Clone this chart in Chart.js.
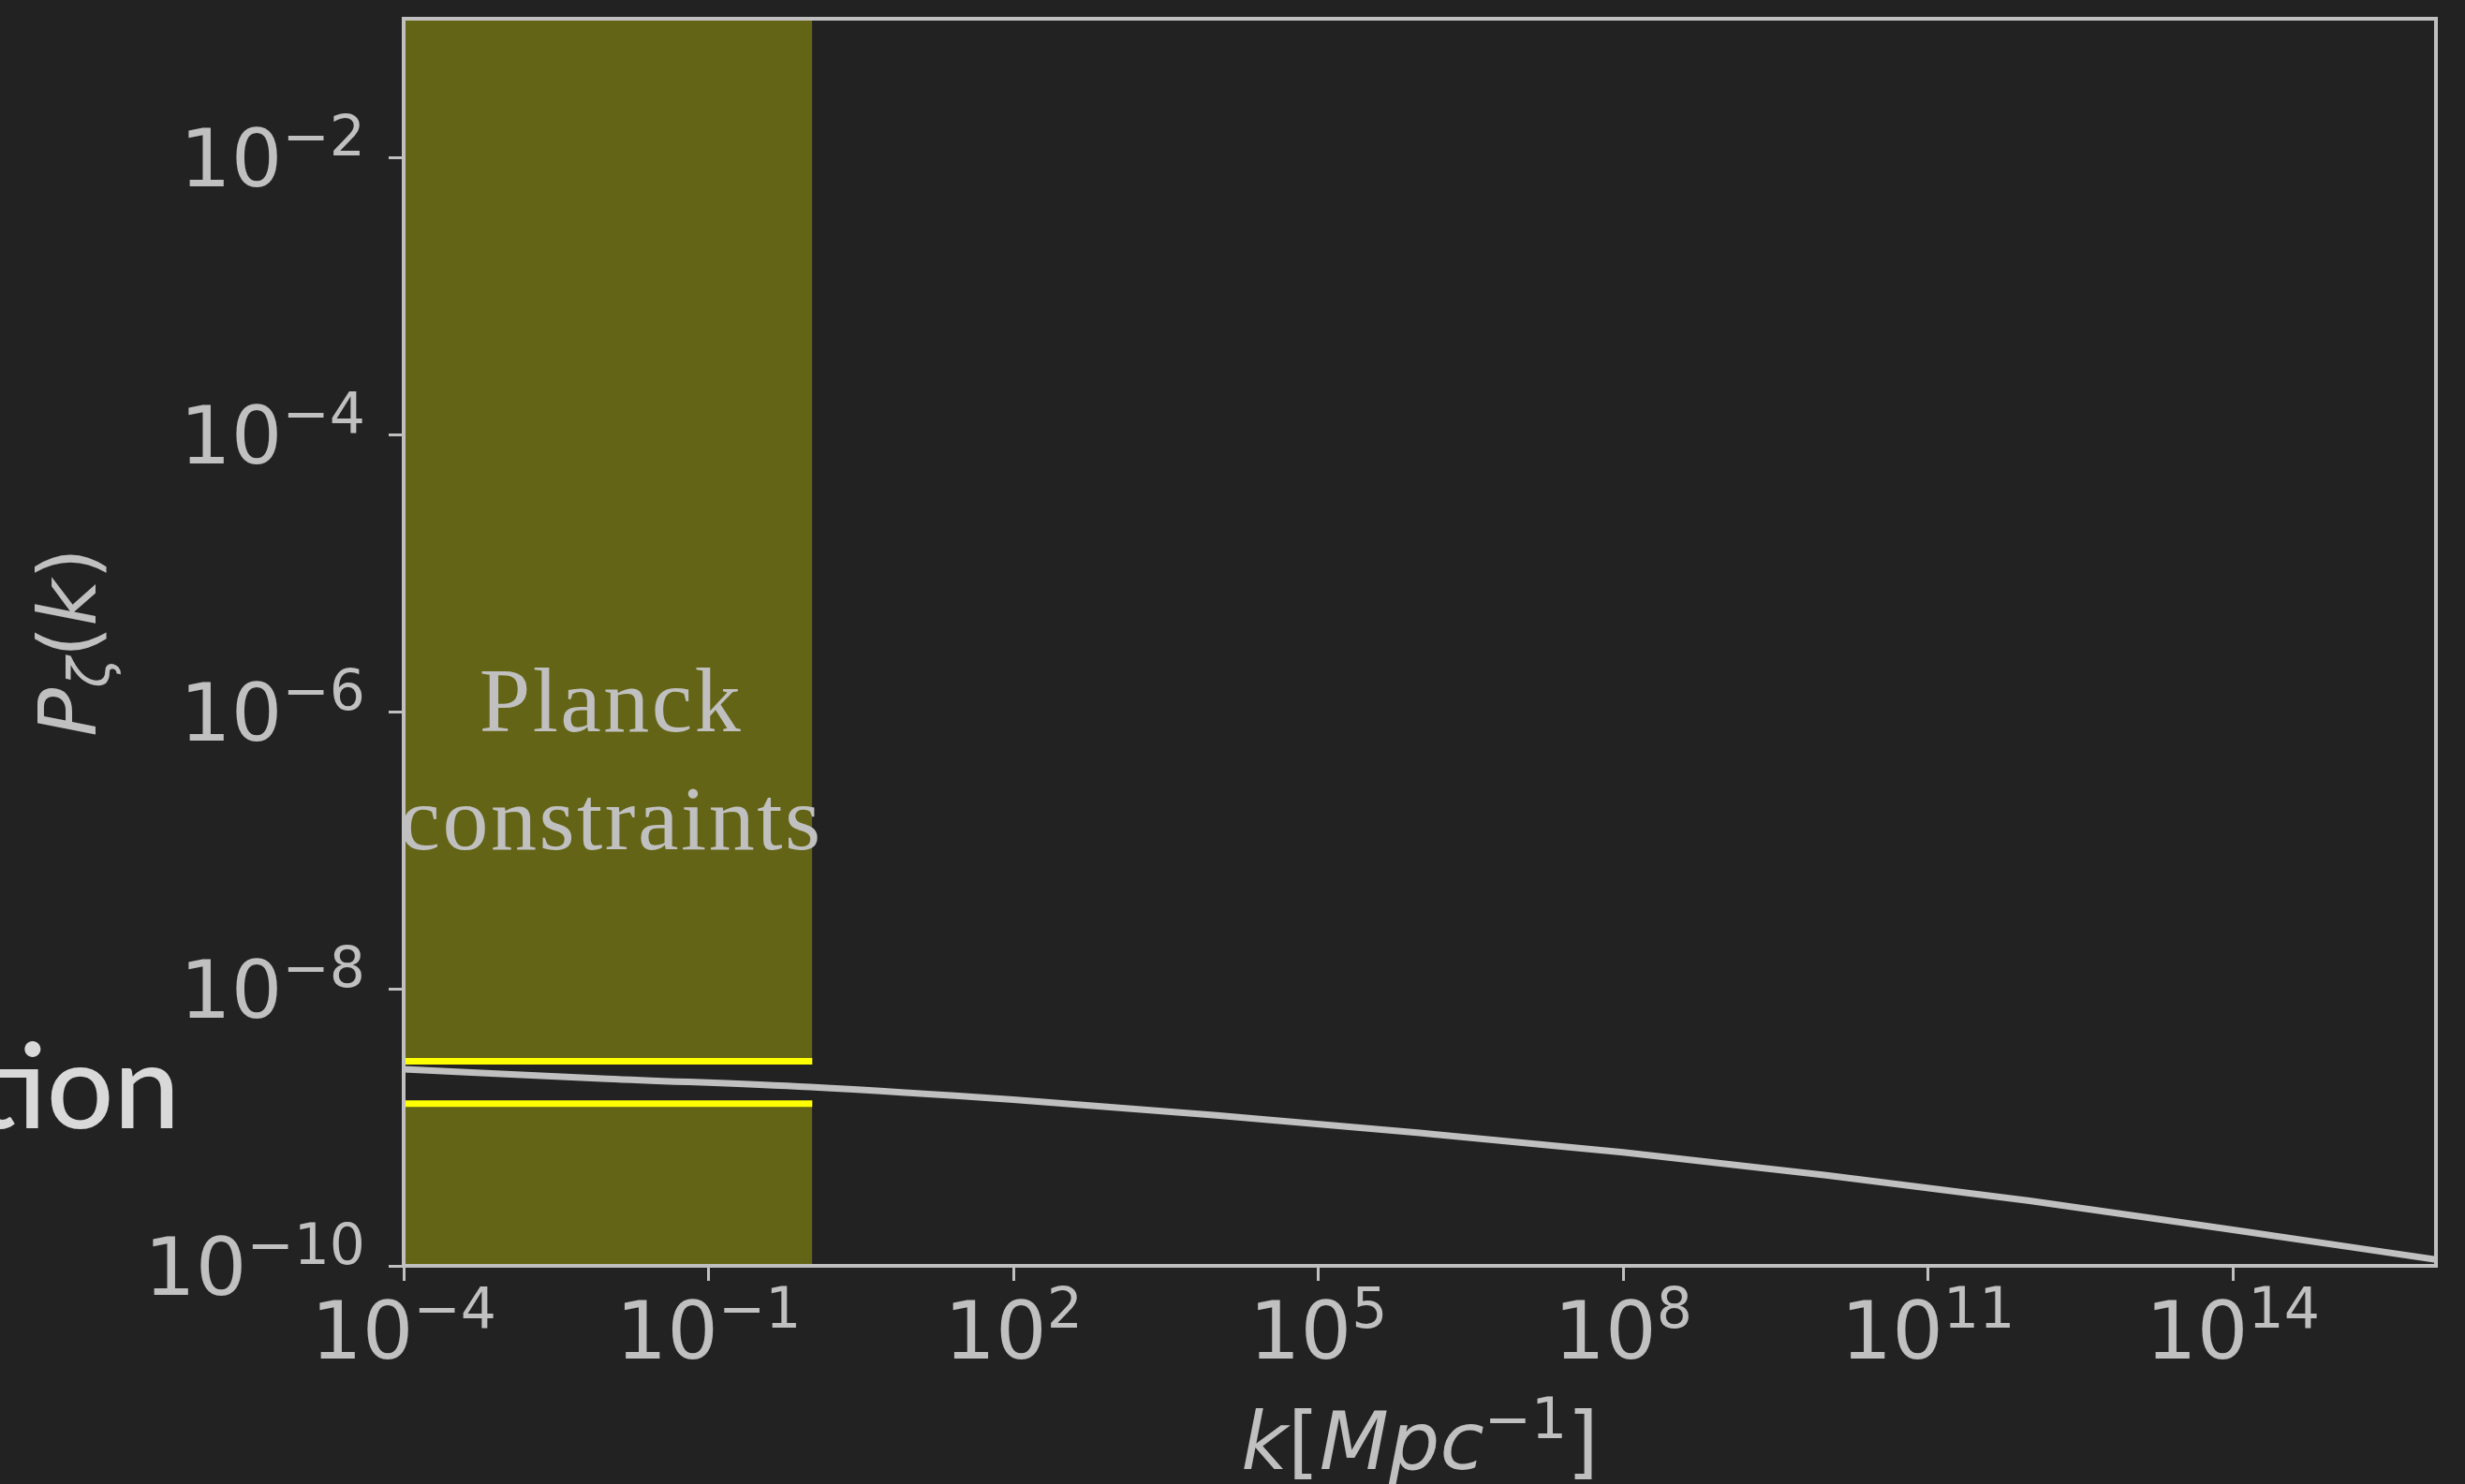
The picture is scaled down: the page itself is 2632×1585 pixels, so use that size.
<!DOCTYPE html>
<html>
<head>
<meta charset="utf-8">
<script src="https://cdn.jsdelivr.net/npm/chart.js@4.4.1/dist/chart.umd.min.js"></script>
<style>
  html, body { margin: 0; padding: 0; background: #222222; overflow: hidden; }
  canvas { display: block; }
</style>
</head>
<body>
<canvas id="myChart" width="2632" height="1585"></canvas>
<script>
// power spectrum, k in Mpc^-1
const kValues = [1e-4, 1e-2, 1, 1e2, 1e4, 1e6, 1e8, 1e10, 1e12, 1e14, 1e16];
const powerValues = [2.62e-9, 2.24e-9, 1.95e-9, 1.58e-9, 1.22e-9, 9.1e-10, 6.6e-10, 4.5e-10, 2.95e-10, 1.82e-10, 1.11e-10];

// Planck band
const planckK = [1e-4, 1.05];
const planckUpper = 2.99e-9;
const planckLower = 1.48e-9;
const planckLabel = ['Planck', 'constraints'];

// axes
const xRange = [1e-4, 1e16];
const yRange = [1e-10, 1e-1];
const xTickValues = [1e-4, 1e-1, 1e2, 1e5, 1e8, 1e11, 1e14];
const yTickValues = [1e-10, 1e-8, 1e-6, 1e-4, 1e-2];

const fg = '#c0c0c0';
const FS = 86, SFS = 60;
const sans = '"DejaVu Sans"';

// draws a run of text pieces [text, font, dy] along the baseline
function drawRun(ctx, parts, x, y, align) {
    let total = 0;
    const widths = parts.map(p => {
        ctx.font = p[1];
        const w = ctx.measureText(p[0]).width;
        total += w;
        return w;
    });
    let cx = align === 'center' ? x - total / 2 : (align === 'right' ? x - total : x);
    ctx.textAlign = 'left';
    ctx.textBaseline = 'alphabetic';
    parts.forEach((p, i) => {
        ctx.font = p[1];
        ctx.fillText(p[0], cx, y + (p[2] || 0));
        cx += widths[i];
    });
}

function powerLabel(v) {
    const e = Math.round(Math.log10(v));
    const sup = (e < 0 ? '\u2212' : '') + Math.abs(e);
    return [['10', FS + 'px ' + sans, 0], [sup, SFS + 'px ' + sans, -33]];
}

const decorations = {
    id: 'decorations',
    afterDatasetsDraw(chart) {
        const ctx = chart.ctx;
        const a = chart.chartArea;
        const xs = chart.scales.x, ys = chart.scales.y;
        ctx.save();

        // frame
        ctx.strokeStyle = fg;
        ctx.lineWidth = 4;
        ctx.strokeRect(a.left, a.top, a.right - a.left, a.bottom - a.top);

        ctx.fillStyle = fg;
        // tick labels
        xTickValues.forEach(v => {
            drawRun(ctx, powerLabel(v), xs.getPixelForValue(v), a.bottom + 99, 'center');
        });
        yTickValues.forEach(v => {
            drawRun(ctx, powerLabel(v), a.left - 41, ys.getPixelForValue(v) + 31, 'right');
        });

        // x title
        const it = 'italic ' + FS + 'px ' + sans, up = FS + 'px ' + sans;
        drawRun(ctx, [['k', it], ['[', up], ['Mpc', it], ['\u22121', SFS + 'px ' + sans, -33], [']', up]],
            (a.left + a.right) / 2, a.bottom + 217, 'center');

        // y title
        ctx.save();
        ctx.translate(a.left - 329, (a.top + a.bottom) / 2);
        ctx.rotate(-Math.PI / 2);
        drawRun(ctx, [['P', it], ['\u03b6', 'italic ' + SFS + 'px ' + sans, 14], ['(', up], ['k', it], [')', up]], 0, 0, 'center');
        ctx.restore();

        // band label
        ctx.font = '98px "Liberation Serif"';
        ctx.letterSpacing = '2.5px';
        ctx.textAlign = 'center';
        const px = xs.getPixelForValue(1.1e-2);
        const py = ys.getPixelForValue(7.2e-7);
        ctx.fillText(planckLabel[0], px, py);
        ctx.fillText(planckLabel[1], px, py + 126);
        ctx.letterSpacing = '0px';

        // left-over slide title behind the plot
        ctx.font = '500 126px Lato';
        ctx.fillStyle = '#d9d9d9';
        ctx.textAlign = 'right';
        ctx.fillText('tion', 192, 1205);

        ctx.restore();
    }
};

const axisBase = {
    type: 'logarithmic',
    border: { display: false },
    grid: {
        display: true,
        drawOnChartArea: false,
        drawTicks: true,
        tickLength: 16,
        tickWidth: 3,
        tickColor: fg,
        color: fg
    },
    ticks: { display: false }
};

new Chart(document.getElementById('myChart'), {
    type: 'line',
    data: {
        datasets: [
            {
                data: kValues.map((k, i) => ({ x: k, y: powerValues[i] })),
                borderColor: fg,
                borderWidth: 7,
                pointRadius: 0,
                fill: false,
                cubicInterpolationMode: 'monotone',
                order: 0
            },
            {
                data: planckK.map(k => ({ x: k, y: planckUpper })),
                borderColor: '#ffff00',
                borderWidth: 7,
                pointRadius: 0,
                fill: 'end',
                backgroundColor: 'rgba(255,255,0,0.3)',
                order: 1
            },
            {
                data: planckK.map(k => ({ x: k, y: planckLower })),
                borderColor: '#ffff00',
                borderWidth: 7,
                pointRadius: 0,
                fill: 'start',
                backgroundColor: 'rgba(255,255,0,0.3)',
                order: 1
            }
        ]
    },
    options: {
        responsive: false,
        devicePixelRatio: 1,
        animation: false,
        layout: { padding: { left: 415, top: 20, right: 31, bottom: 217 } },
        plugins: { legend: { display: false }, tooltip: { enabled: false } },
        scales: {
            x: Object.assign({}, axisBase, {
                min: xRange[0], max: xRange[1],
                afterBuildTicks: s => { s.ticks = xTickValues.map(v => ({ value: v })); }
            }),
            y: Object.assign({}, axisBase, {
                min: yRange[0], max: yRange[1],
                afterBuildTicks: s => { s.ticks = yTickValues.map(v => ({ value: v })); }
            })
        }
    },
    plugins: [decorations]
});
</script>
</body>
</html>
